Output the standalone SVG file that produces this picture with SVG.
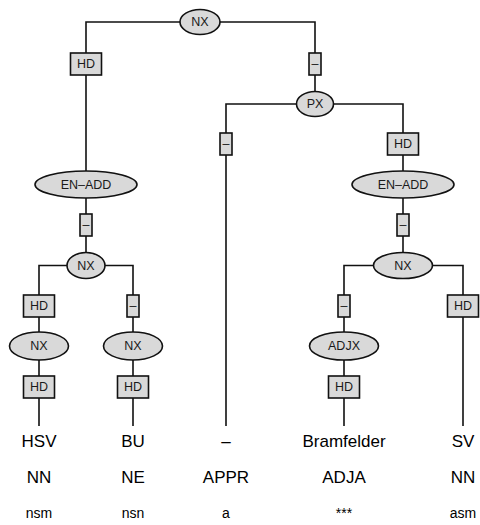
<svg xmlns="http://www.w3.org/2000/svg" width="480" height="525" viewBox="0 0 480 525">
<style>
.c{fill:none;stroke:#111;stroke-width:1.6}
.n{fill:#d9d9d9;stroke:#111;stroke-width:1.6}
.l{font-family:"Liberation Sans",Arial,sans-serif;font-size:12.5px;fill:#1a1a1a;text-anchor:middle;dominant-baseline:central}
.w{font-family:"Liberation Sans",Arial,sans-serif;font-size:17px;fill:#000;text-anchor:middle}
.m{font-family:"Liberation Sans",Arial,sans-serif;font-size:14px;fill:#000;text-anchor:middle}
</style>
<rect width="480" height="525" fill="#fff"/>
<g id="connectors">
<path class="c" d="M200,22 H86 V184.5"/>
<path class="c" d="M200,22 H315 V104"/>
<path class="c" d="M315,104 H226 V426"/>
<path class="c" d="M315,104 H403 V184.5"/>
<path class="c" d="M86,184.5 V265.5"/>
<path class="c" d="M86,265.5 H39 V426"/>
<path class="c" d="M86,265.5 H133 V426"/>
<path class="c" d="M403,184.5 V265.5"/>
<path class="c" d="M403,265.5 H344 V426"/>
<path class="c" d="M403,265.5 H463 V426"/>
</g>
<g id="edge-labels">
<g id="e1"><rect class="n" x="70.5" y="53" width="31" height="22"/><text class="l" x="86" y="64">HD</text></g>
<g id="e2"><rect class="n" x="309" y="53" width="12" height="22"/><text class="l" x="315" y="64">–</text></g>
<g id="e3"><rect class="n" x="220" y="133" width="12" height="22"/><text class="l" x="226" y="144">–</text></g>
<g id="e4"><rect class="n" x="387.5" y="133" width="31" height="22"/><text class="l" x="403" y="144">HD</text></g>
<g id="e5"><rect class="n" x="80" y="214" width="12" height="22"/><text class="l" x="86" y="225">–</text></g>
<g id="e5b"><rect class="n" x="397" y="214" width="12" height="22"/><text class="l" x="403" y="225">–</text></g>
<g id="e6"><rect class="n" x="23.5" y="295" width="31" height="22"/><text class="l" x="39" y="306">HD</text></g>
<g id="e7"><rect class="n" x="127" y="295" width="12" height="22"/><text class="l" x="133" y="306">–</text></g>
<g id="e8"><rect class="n" x="338" y="295" width="12" height="22"/><text class="l" x="344" y="306">–</text></g>
<g id="e9"><rect class="n" x="447.5" y="295" width="31" height="22"/><text class="l" x="463" y="306">HD</text></g>
<g id="e10"><rect class="n" x="23.5" y="376" width="31" height="22"/><text class="l" x="39" y="387">HD</text></g>
<g id="e11"><rect class="n" x="117.5" y="376" width="31" height="22"/><text class="l" x="133" y="387">HD</text></g>
<g id="e12"><rect class="n" x="328.5" y="376" width="31" height="22"/><text class="l" x="344" y="387">HD</text></g>
</g>
<g id="nx-root"><ellipse class="n" cx="200" cy="22" rx="20" ry="12.5"/><text class="l" x="200" y="22">NX</text></g>
<g id="px"><ellipse class="n" cx="315" cy="104" rx="18.5" ry="12.5"/><text class="l" x="315" y="104">PX</text></g>
<g id="enadd-left"><ellipse class="n" cx="86" cy="184.5" rx="51" ry="13.5"/><text class="l" x="86" y="184.5">EN–ADD</text></g>
<g id="enadd-right"><ellipse class="n" cx="403" cy="184.5" rx="51" ry="13.5"/><text class="l" x="403" y="184.5">EN–ADD</text></g>
<g id="nx-left"><ellipse class="n" cx="86" cy="265.5" rx="19" ry="13"/><text class="l" x="86" y="265.5">NX</text></g>
<g id="nx-right"><ellipse class="n" cx="403" cy="265.5" rx="29.5" ry="13"/><text class="l" x="403" y="265.5">NX</text></g>
<g id="nx-hsv"><ellipse class="n" cx="39" cy="346" rx="29.5" ry="14"/><text class="l" x="39" y="346">NX</text></g>
<g id="nx-bu"><ellipse class="n" cx="133" cy="346" rx="29.5" ry="14"/><text class="l" x="133" y="346">NX</text></g>
<g id="adjx"><ellipse class="n" cx="344" cy="346" rx="34.5" ry="14"/><text class="l" x="344" y="346">ADJX</text></g>
<g id="tokens">
<g id="t1"><text class="w" x="39" y="447">HSV</text><text class="w" x="39" y="483">NN</text><text class="m" x="39" y="518">nsm</text></g>
<g id="t2"><text class="w" x="133" y="447">BU</text><text class="w" x="133" y="483">NE</text><text class="m" x="133" y="518">nsn</text></g>
<g id="t3"><text class="w" x="226" y="447">–</text><text class="w" x="226" y="483">APPR</text><text class="m" x="226" y="518">a</text></g>
<g id="t4"><text class="w" x="344" y="447">Bramfelder</text><text class="w" x="344" y="483">ADJA</text><text class="m" x="344" y="518">***</text></g>
<g id="t5"><text class="w" x="463" y="447">SV</text><text class="w" x="463" y="483">NN</text><text class="m" x="463" y="518">asm</text></g>
</g>
</svg>
